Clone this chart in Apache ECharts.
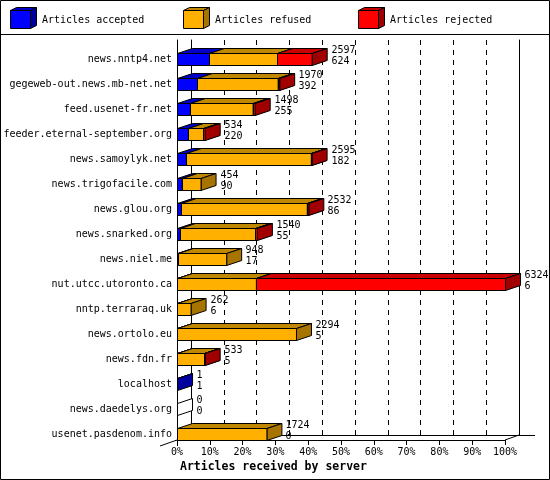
<!DOCTYPE html>
<html>
<head>
<meta charset="utf-8">
<script src="https://cdn.jsdelivr.net/npm/echarts@6/dist/echarts.min.js"></script>
<style>
html, body { margin: 0; padding: 0; background: #fff; }
#main { width: 550px; height: 480px; }
</style>
</head>
<body>
<div id="main"></div>
<script>
var servers = ['news.nntp4.net', 'gegeweb-out.news.mb-net.net', 'feed.usenet-fr.net',
	'feeder.eternal-september.org', 'news.samoylyk.net', 'news.trigofacile.com', 'news.glou.org',
	'news.snarked.org', 'news.niel.me', 'nut.utcc.utoronto.ca', 'nntp.terraraq.uk', 'news.ortolo.eu',
	'news.fdn.fr', 'localhost', 'news.daedelys.org', 'usenet.pasdenom.info'];
var accepted = [624, 392, 255, 220, 182, 90, 86, 55, 17, 6, 6, 5, 5, 1, 0, 0];
var refused  = [1311, 1549, 1203, 289, 2398, 364, 2416, 1455, 931, 1515, 256, 2289, 518, 0, 0, 1724];
var rejected = [662, 29, 40, 25, 15, 0, 30, 30, 0, 4803, 0, 0, 10, 0, 0, 0];
var tickLabels = ['0%', '10%', '20%', '30%', '40%', '50%', '60%', '70%', '80%', '90%', '100%'];
var seriesNames = ['Articles accepted', 'Articles refused', 'Articles rejected'];

var FONT = '"DejaVu Sans Mono", "Liberation Mono", monospace';
var frontCol = ['#0000ff', '#ffb000', '#ff0000'];
var topCol = ['#0000c8', '#c08800', '#c80000'];
var sideCol = ['#0000a0', '#a87400', '#a00000'];
var DX = 15, DY = 5, FACE = 12;

var totals = servers.map(function (s, i) { return accepted[i] + refused[i] + rejected[i]; });
var maxTotal = Math.max.apply(null, totals);
var step = maxTotal / 10;

// segments as [row, start, end]
var segs = [[], [], []];
servers.forEach(function (s, i) {
	segs[0].push([i, 0, accepted[i]]);
	segs[1].push([i, accepted[i], accepted[i] + refused[i]]);
	segs[2].push([i, accepted[i] + refused[i], totals[i]]);
});

function box(x0, x1, ft, k) {
	var fb = ft + FACE;
	var st = { stroke: '#000', lineWidth: 1 };
	return [
		{ type: 'polygon', shape: { points: [[x0, ft], [x1, ft], [x1 + DX, ft - DY], [x0 + DX, ft - DY]] },
			style: Object.assign({ fill: topCol[k] }, st) },
		{ type: 'polygon', shape: { points: [[x1, ft], [x1 + DX, ft - DY], [x1 + DX, fb - DY], [x1, fb]] },
			style: Object.assign({ fill: sideCol[k] }, st) },
		{ type: 'rect', shape: { x: x0, y: ft, width: x1 - x0, height: FACE },
			style: Object.assign({ fill: frontCol[k] }, st) }
	];
}

function segRenderer(k) {
	return function (params, api) {
		var row = api.value(0), a = api.value(1), b = api.value(2);
		if (b - a <= 0) return;
		var p0 = api.coord([a, row]), p1 = api.coord([b, row]);
		var ft = Math.floor(p0[1]) + 1.5;
		var x0 = Math.round(p0[0]) + 0.5;
		var x1 = Math.max(p1[0] + 0.5, x0);
		return { type: 'group', children: box(x0, x1, ft, k) };
	};
}

function labelRenderer(params, api) {
	var row = api.value(0), tot = api.value(1), acc = api.value(2);
	var p = api.coord([tot, row]);
	var ft = Math.floor(p[1]) + 1.5;
	var x = Math.round(p[0]) + 0.5;
	var ch = [];
	if (tot === 0) {
		ch.push({ type: 'polygon', shape: { points: [[x, ft], [x + DX, ft - DY], [x + DX, ft + FACE - DY], [x, ft + FACE]] },
			style: { fill: '#fff', stroke: '#000', lineWidth: 1 } });
	}
	ch.push({ type: 'text', style: { text: String(tot), x: x + DX + 4, y: p[1] - 2, font: '10px ' + FONT, fill: '#000', verticalAlign: 'middle' } });
	ch.push({ type: 'text', style: { text: String(acc), x: x + DX + 4, y: p[1] + 8.5, font: '10px ' + FONT, fill: '#000', verticalAlign: 'middle' } });
	return { type: 'group', children: ch };
}

// legend boxes drawn as graphics
var legendX = [10, 183, 358];
var legendGraphics = [];
legendX.forEach(function (lx, k) {
	var x0 = lx + 0.5, y0 = 10.5;
	legendGraphics.push({ type: 'polygon', shape: { points: [[x0, y0], [x0 + 20, y0], [x0 + 26, y0 - 3], [x0 + 6, y0 - 3]] },
		style: { fill: topCol[k], stroke: '#000', lineWidth: 1 } });
	legendGraphics.push({ type: 'polygon', shape: { points: [[x0 + 20, y0], [x0 + 26, y0 - 3], [x0 + 26, y0 + 15], [x0 + 20, y0 + 18]] },
		style: { fill: sideCol[k], stroke: '#000', lineWidth: 1 } });
	legendGraphics.push({ type: 'rect', shape: { x: x0, y: y0, width: 20, height: 18 },
		style: { fill: frontCol[k], stroke: '#000', lineWidth: 1 } });
	legendGraphics.push({ type: 'text', style: { text: seriesNames[k], x: lx + 32, y: 20, font: '10px ' + FONT, fill: '#000', verticalAlign: 'middle' } });
});

var frame = [
	{ type: 'rect', shape: { x: 0.5, y: 0.5, width: 549, height: 479 }, style: { fill: 'none', stroke: '#000', lineWidth: 1 } },
	{ type: 'line', shape: { x1: 0, y1: 34.5, x2: 550, y2: 34.5 }, style: { stroke: '#000', lineWidth: 1 } },
	{ type: 'line', shape: { x1: 160, y1: 446, x2: 177, y2: 440 }, style: { stroke: '#000', lineWidth: 1 } },
	{ type: 'line', shape: { x1: 177.5, y1: 440, x2: 177.5, y2: 446 }, style: { stroke: '#000', lineWidth: 1 } },
	{ type: 'line', shape: { x1: 505, y1: 440, x2: 519, y2: 435 }, style: { stroke: '#000', lineWidth: 1 } },
	{ type: 'line', shape: { x1: 519, y1: 435.5, x2: 535, y2: 435.5 }, style: { stroke: '#000', lineWidth: 1 } }
];

var chart = echarts.init(document.getElementById('main'), null, { renderer: 'canvas' });
var option = {
	backgroundColor: '#fff',
	animation: false,
	title: {
		text: 'Articles received by server',
		left: 180, top: 461, padding: 0,
		textStyle: { fontFamily: FONT, fontWeight: 'bold', fontSize: 11.5, color: '#000' }
	},
	graphic: legendGraphics.concat(frame),
	grid: [
		{ left: 177, right: 45, top: 40, bottom: 40 },
		{ left: 191, right: 31, top: 40, bottom: 45 }
	],
	xAxis: [
		{
			gridIndex: 0, type: 'value', min: 0, max: maxTotal, interval: step,
			axisLine: { show: true, lineStyle: { color: '#000' } },
			axisTick: { show: true, length: 5, lineStyle: { color: '#000' } },
			axisLabel: {
				margin: 7, color: '#000', fontFamily: FONT, fontSize: 10,
				formatter: function (v) { return tickLabels[Math.round(v / step)]; }
			},
			splitLine: { show: false }
		},
		{
			gridIndex: 1, type: 'value', min: 0, max: maxTotal, interval: step,
			axisLine: { show: true, lineStyle: { color: '#000' } },
			axisTick: { show: false }, axisLabel: { show: false },
			splitLine: { show: true, showMinLine: false, showMaxLine: false, lineStyle: { color: '#000', type: [5, 5] } }
		}
	],
	yAxis: [
		{
			gridIndex: 0, type: 'category', data: servers, inverse: true,
			axisLine: { show: true, lineStyle: { color: '#000' } },
			axisTick: { show: false },
			axisLabel: { margin: 5, color: '#000', fontFamily: FONT, fontSize: 10,
				verticalAlign: 'top', lineHeight: 13 }
		},
		{
			gridIndex: 1, type: 'category', data: servers, inverse: true, position: 'left',
			axisLine: { show: true, lineStyle: { color: '#000' } },
			axisTick: { show: false }, axisLabel: { show: false }
		},
		{
			gridIndex: 1, type: 'category', data: servers, inverse: true, position: 'right',
			axisLine: { show: true, lineStyle: { color: '#000' } },
			axisTick: { show: false }, axisLabel: { show: false }
		}
	],
	series: [0, 1, 2].map(function (k) {
		return {
			name: seriesNames[k], type: 'custom', xAxisIndex: 0, yAxisIndex: 0,
			renderItem: segRenderer(k), encode: { x: [1, 2], y: 0 }, data: segs[k]
		};
	}).concat([{
		name: 'labels', type: 'custom', xAxisIndex: 0, yAxisIndex: 0,
		renderItem: labelRenderer, encode: { x: 1, y: 0 },
		data: servers.map(function (s, i) { return [i, totals[i], accepted[i]]; })
	}])
};
chart.setOption(option);
</script>
</body>
</html>
